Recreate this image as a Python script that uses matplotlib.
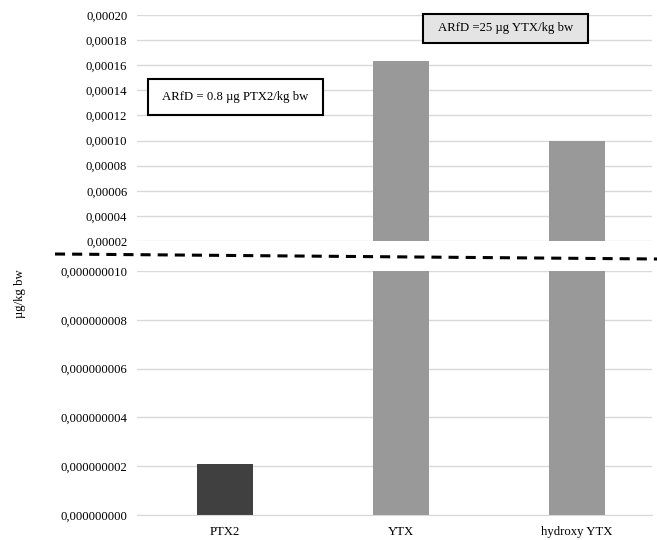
import matplotlib
matplotlib.use("Agg")
import matplotlib.pyplot as plt
from matplotlib.patches import Rectangle
from matplotlib.lines import Line2D
from matplotlib.ticker import FuncFormatter

plt.rcParams['font.family'] = ['Liberation Serif', 'DejaVu Serif']

# intake values, µg/kg bw
categories = ["PTX2", "YTX", "hydroxy YTX"]
values = [0.0000000021, 0.000163, 0.0001]
bar_colors = ["#404040", "#999999", "#999999"]

upper_ticks = [0.00002, 0.00004, 0.00006, 0.00008, 0.00010, 0.00012,
               0.00014, 0.00016, 0.00018, 0.00020]
lower_ticks = [0.0, 0.000000002, 0.000000004, 0.000000006,
               0.000000008, 0.000000010]

arfd_ptx2 = "ARfD = 0.8 µg PTX2/kg bw"
arfd_ytx = "ARfD =25 µg YTX/kg bw"

W, H = 657, 540
FS = 9.2
fig = plt.figure(figsize=(W / 100, H / 100), dpi=100)


def px_axes(x0, y_top, x1, y_bot):
    return fig.add_axes([x0 / W, 1 - y_bot / H, (x1 - x0) / W, (y_bot - y_top) / H])


ax_top = px_axes(137, 15, 652, 241)
ax_bot = px_axes(137, 271, 652, 515)

x = range(len(categories))
grid_c = "#d9d9d9"

for ax, ticks, dec in [(ax_top, upper_ticks, 5), (ax_bot, lower_ticks, 9)]:
    ax.bar(x, values, width=0.32, color=bar_colors, zorder=2)
    ax.set_ylim(ticks[0], ticks[-1])
    ax.set_yticks(ticks)
    ax.yaxis.set_major_formatter(
        FuncFormatter(lambda v, p, d=dec: f"{v:.{d}f}".replace(".", ",")))
    ax.set_xlim(-0.5, 2.426)
    ax.grid(axis="y", color=grid_c, lw=1, zorder=0)
    for s in ["top", "right", "left", "bottom"]:
        ax.spines[s].set_visible(False)
    ax.tick_params(axis="y", length=0, pad=7, labelsize=FS)
    ax.tick_params(axis="x", length=0, pad=8, labelsize=FS)
    ax.set_axisbelow(True)

ax_top.set_xticks([])
ax_bot.set_xticks(list(x))
ax_bot.set_xticklabels(categories)
ax_bot.spines["bottom"].set_visible(True)
ax_bot.spines["bottom"].set_color(grid_c)

fig.text(20 / W, 1 - 294 / H, "µg/kg bw", rotation=90, ha="center", va="center", fontsize=FS)

# axis break marker
fig.add_artist(Line2D([55 / W, 1.0], [1 - 254 / H, 1 - 259 / H], color="black",
                      lw=2.2, dashes=(3.3, 2.3)))


def px_box(x0, y0, x1, y1, label, fc):
    fig.add_artist(Rectangle((x0 / W, 1 - y1 / H), (x1 - x0) / W, (y1 - y0) / H,
                             transform=fig.transFigure, facecolor=fc,
                             edgecolor="black", lw=1.5))
    fig.text((x0 + x1) / 2 / W, 1 - (y0 + y1) / 2 / H, label,
             ha="center", va="center", fontsize=FS)


px_box(148, 79, 323, 115, arfd_ptx2, "white")
px_box(423, 14, 588, 43, arfd_ytx, "#e4e4e4")

fig.savefig("out.png", dpi=100)
